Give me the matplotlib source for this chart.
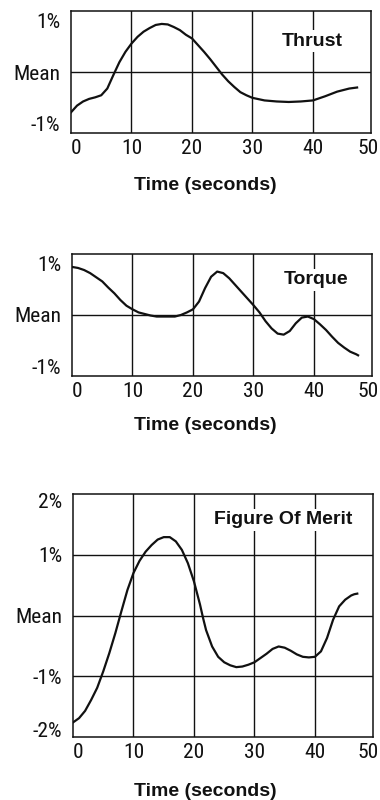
import os
import matplotlib
matplotlib.use("Agg")
import matplotlib.pyplot as plt
from matplotlib import font_manager
from matplotlib.font_manager import FontProperties

# ---------------- data ----------------
thrust_t = [0, 1, 2, 3, 4, 5, 6, 7, 8, 9, 10, 11, 12, 13, 14, 15, 16, 17, 18, 19, 20,
            21, 22, 23, 24, 25, 26, 27, 28, 29, 30, 32, 34, 36, 38, 40, 42, 44, 46, 47.3]
thrust_v = [-0.78, -0.65, -0.57, -0.52, -0.49, -0.45, -0.32, -0.06, 0.19, 0.39, 0.55,
            0.68, 0.78, 0.85, 0.91, 0.93, 0.92, 0.87, 0.81, 0.72, 0.65, 0.52, 0.39, 0.25,
            0.10, -0.05, -0.18, -0.29, -0.39, -0.45, -0.50, -0.55, -0.57, -0.58, -0.57,
            -0.55, -0.47, -0.38, -0.32, -0.30]

torque_t = [0, 1, 2, 3, 4, 5, 6, 7, 8, 9, 10, 11, 12, 13, 14, 15, 16, 17, 18, 19, 20,
            21, 22, 23, 24, 25, 26, 27, 28, 29, 30, 31, 32, 33, 34, 35, 36, 37, 38, 39,
            40, 41, 42, 43, 44, 45, 46, 47, 47.3]
torque_v = [0.93, 0.91, 0.87, 0.81, 0.73, 0.65, 0.53, 0.42, 0.29, 0.18, 0.11, 0.05, 0.02,
            -0.01, -0.03, -0.03, -0.03, -0.03, 0.00, 0.05, 0.11, 0.26, 0.52, 0.74, 0.84,
            0.81, 0.71, 0.58, 0.45, 0.32, 0.19, 0.05, -0.12, -0.26, -0.36, -0.38, -0.31,
            -0.16, -0.05, -0.03, -0.08, -0.18, -0.29, -0.42, -0.54, -0.63, -0.71, -0.76,
            -0.78]

fom_t = [0, 1, 2, 3, 4, 5, 6, 7, 8, 9, 10, 11, 12, 13, 14, 15, 16, 17, 18, 19, 20, 21,
         21.5, 22, 23, 24, 25, 26, 27, 28, 29, 30, 31, 32, 33, 34, 35, 36, 37, 38, 39, 40,
         41, 42, 43, 44, 45, 46, 46.5, 47]
fom_v = [-1.76, -1.69, -1.57, -1.39, -1.19, -0.92, -0.62, -0.29, 0.07, 0.42, 0.70, 0.90,
         1.05, 1.16, 1.25, 1.29, 1.29, 1.22, 1.08, 0.86, 0.56, 0.18, -0.04, -0.24, -0.51,
         -0.68, -0.77, -0.82, -0.85, -0.84, -0.81, -0.77, -0.70, -0.63, -0.55, -0.51,
         -0.53, -0.58, -0.64, -0.68, -0.69, -0.68, -0.59, -0.37, -0.07, 0.15, 0.26, 0.33,
         0.35, 0.36]

x_tick_labels = ["0", "10", "20", "30", "40", "50"]
y_labels_small = ["-1%", "Mean", "1%"]
y_labels_big = ["-2%", "-1%", "Mean", "1%", "2%"]
titles = ["Thrust", "Torque", "Figure Of Merit"]
xlabel = "Time (seconds)"

INK = "#111111"
W, H = 380, 800
fig = plt.figure(figsize=(3.8, 8), dpi=100)

# ---------------- fonts ----------------
# prefer a narrow/condensed regular sans for tick labels (the original uses Helvetica Narrow)
prefs = ["LiberationSansNarrow-Regular", "RobotoCondensed-Regular", "NotoSans-Condensed",
         "NotoSansCondensed-Regular", "OpenSans-CondensedRegular", "OpenSansCondensed",
         "DejaVuSansCondensed.ttf"]
tick_fp = None
files = [f.fname for f in font_manager.fontManager.ttflist]
for p in prefs:
    hits = [fn for fn in files if p.lower() in os.path.basename(fn).lower()
            and "bold" not in os.path.basename(fn).lower()
            and "italic" not in os.path.basename(fn).lower()]
    if hits:
        tick_fp = FontProperties(fname=sorted(hits)[0])
        break
if tick_fp is None:
    tick_fp = FontProperties(family="Liberation Sans")

# size the tick font so that "Mean" is ~47 px wide, as in the original
renderer = fig.canvas.get_renderer()
probe = fig.text(0, 0, "Mean", fontproperties=tick_fp.copy())
probe.set_fontsize(10)
wpx = probe.get_window_extent(renderer).width
probe.remove()
tick_size = min(17.5, 10 * 47.0 / wpx)

bold_family = ["Liberation Sans", "DejaVu Sans"]


def px_axes(left, right, top, bottom):
    return fig.add_axes([left / W, 1 - bottom / H, (right - left) / W, (bottom - top) / H])


def style(ax, ylim, yticks, ylabels, hgrid, xt_last):
    ax.set_xlim(0, 49.6)
    ax.set_ylim(*ylim)
    for s in ax.spines.values():
        s.set_color(INK)
        s.set_linewidth(1.1)
    for x in [10, 20, 30, 40]:
        ax.axvline(x, color=INK, lw=1.0, zorder=1)
    for y in hgrid:
        ax.axhline(y, color=INK, lw=1.0, zorder=1)
    ax.set_xticks([0.8, 10, 20, 30, 40, xt_last])
    ax.set_xticklabels(x_tick_labels)
    ax.set_yticks(yticks)
    ax.set_yticklabels(ylabels)
    ax.tick_params(axis="x", length=0, pad=4.0)
    ax.tick_params(axis="y", length=0, pad=7.5)
    for lab in ax.get_xticklabels() + ax.get_yticklabels():
        fp = tick_fp.copy()
        fp.set_size(tick_size)
        lab.set_fontproperties(fp)
        lab.set_color(INK)


def add_title(ax, text, x, y):
    ax.text(x, y, text, ha="center", va="baseline", fontsize=14, fontweight="bold",
            family=bold_family, color=INK, zorder=3,
            bbox=dict(facecolor="white", edgecolor="none", pad=1.5))


# Panel 1: Thrust
ax1 = px_axes(71, 371, 11, 133)
style(ax1, (-1.18, 1.18), [-1, 0, 1], y_labels_small, [0], 49.2)
ax1.plot(thrust_t, thrust_v, color=INK, lw=1.6, solid_joinstyle="round", zorder=2)
add_title(ax1, titles[0], 39.9, 0.51)

# Panel 2: Torque
ax2 = px_axes(72, 372, 254, 376)
style(ax2, (-1.18, 1.18), [-1, 0, 1], y_labels_small, [0], 49.0)
ax2.plot(torque_t, torque_v, color=INK, lw=1.6, solid_joinstyle="round", zorder=2)
add_title(ax2, titles[1], 40.4, 0.59)

# Panel 3: Figure Of Merit
ax3 = px_axes(73, 373, 494, 737)
style(ax3, (-2.0, 2.0), [-1.88, -1, 0, 1, 1.9], y_labels_big, [-1, 0, 1], 48.8)
ax3.plot(fom_t, fom_v, color=INK, lw=1.6, solid_joinstyle="round", zorder=2)
add_title(ax3, titles[2], 34.7, 1.50)

# x-axis labels
for yc in [186, 426, 791]:
    fig.text(205 / W, 1 - yc / H, xlabel, ha="center", va="center", fontsize=14,
             fontweight="bold", family=bold_family, color=INK)

fig.savefig("out.png", dpi=100, facecolor="white")
